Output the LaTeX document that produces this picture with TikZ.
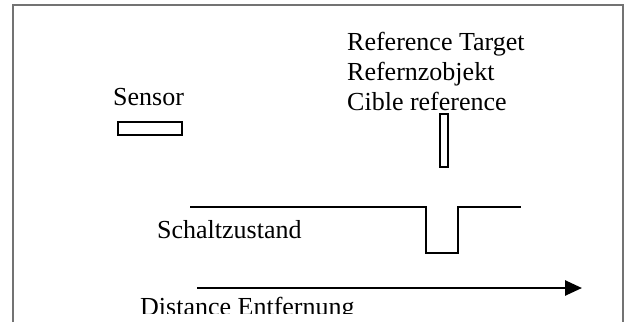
\documentclass[tikz,border=0pt]{standalone}
\usepackage{fontspec}
\setmainfont{Liberation Serif}
\usetikzlibrary{arrows.meta}
\begin{document}
\begin{tikzpicture}[x=1pt,y=-1pt,
  lbl/.style={anchor=base west,inner sep=0pt,font=\fontsize{26}{30}\selectfont},
  frameline/.style={draw=black!55,line width=2pt},
  boxline/.style={draw=black,line width=1.5pt},
  sigline/.style={draw=black,line width=1.6pt},
  axisline/.style={draw=black,line width=2.6pt,-{Triangle[length=17pt,width=15pt]}}]
\useasboundingbox (0,0) rectangle (627,322);
% frame
\coordinate (f1) at (13,322);
\coordinate (f2) at (13,5);
\coordinate (f3) at (623,5);
\coordinate (f4) at (623,322);
\draw[frameline] (f1) -- (f2) -- (f3) -- (f4);
% sensor
\node[lbl] (sensor) at (113,105) {Sensor};
\draw[boxline] (118,122) rectangle (182,135);
% reference target
\node[lbl] (ref1) at (347,50) {Reference Target};
\node[lbl] (ref2) at (347,80) {Refernzobjekt};
\node[lbl] (ref3) at (347,110) {Cible reference};
\draw[boxline] (440,114) rectangle (448,167);
% switching state
\coordinate (s0) at (190,207);
\coordinate (s1) at (426,207);
\coordinate (s2) at (426,253);
\coordinate (s3) at (458,253);
\coordinate (s4) at (458,207);
\coordinate (s5) at (521,207);
\draw[sigline] (s0) -- (s1) -- (s2) -- (s3) -- (s4) -- (s5);
\node[lbl] (schalt) at (157,238) {Schaltzustand};
% distance axis
\coordinate (a0) at (197,288);
\coordinate (a1) at (582,288);
\draw[axisline] (a0) -- (a1);
\begin{scope}
\clip (0,0) rectangle (627,313);
\node[lbl] (dist) at (140,315) {Distance Entfernung};
\end{scope}
\end{tikzpicture}
\end{document}
